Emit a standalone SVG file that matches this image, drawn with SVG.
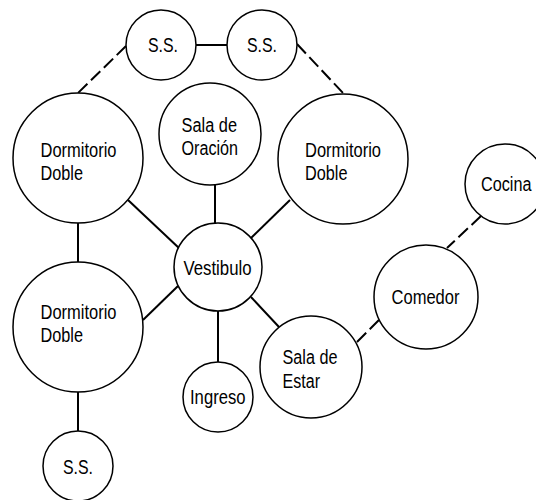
<svg xmlns="http://www.w3.org/2000/svg" width="536" height="500" viewBox="0 0 536 500">
<style>
.n{fill:#fff;stroke:#000;stroke-width:1.5}
.c{stroke:#000;stroke-width:2;fill:none}
.d{stroke-dasharray:13 5}
text{font-family:"Liberation Sans",Arial,sans-serif;font-size:20px;fill:#000}
</style>
<rect width="536" height="500" fill="#fff"/>
<g id="connectors">
<line class="c" x1="196" y1="45" x2="227" y2="45"/>
<line class="c d" x1="126" y1="46" x2="78" y2="93"/>
<line class="c d" x1="297" y1="44" x2="344" y2="94"/>
<line class="c" x1="78" y1="223" x2="78" y2="262"/>
<line class="c" x1="128" y1="200" x2="180" y2="249"/>
<line class="c" x1="215" y1="185" x2="215" y2="224"/>
<line class="c" x1="290" y1="200" x2="250" y2="239"/>
<line class="c" x1="143" y1="320" x2="178" y2="286"/>
<line class="c" x1="218" y1="311" x2="218" y2="362"/>
<line class="c" x1="251" y1="297" x2="279" y2="327"/>
<line class="c" x1="78" y1="392" x2="78" y2="431"/>
<line class="c d" x1="357" y1="342" x2="380" y2="319"/>
<line class="c d" x1="481" y1="216" x2="447" y2="248"/>
</g>
<g id="ss1"><circle class="n" cx="161" cy="45" r="35"/><text x="148" y="51.5" textLength="30" lengthAdjust="spacingAndGlyphs">S.S.</text></g>
<g id="ss2"><circle class="n" cx="262" cy="45" r="35"/><text x="247" y="51.5" textLength="30" lengthAdjust="spacingAndGlyphs">S.S.</text></g>
<g id="dorm1"><circle class="n" cx="78" cy="158" r="65"/><text x="40.5" y="157" textLength="76" lengthAdjust="spacingAndGlyphs">Dormitorio</text><text x="40.5" y="180" textLength="42.5" lengthAdjust="spacingAndGlyphs">Doble</text></g>
<g id="oracion"><circle class="n" cx="210" cy="134" r="51"/><text x="181.5" y="131.5" textLength="55.5" lengthAdjust="spacingAndGlyphs">Sala de</text><text x="181.5" y="154.5" textLength="56.5" lengthAdjust="spacingAndGlyphs">Oración</text></g>
<g id="dorm2"><circle class="n" cx="343" cy="159" r="65"/><text x="305" y="157" textLength="76" lengthAdjust="spacingAndGlyphs">Dormitorio</text><text x="305" y="180" textLength="42.5" lengthAdjust="spacingAndGlyphs">Doble</text></g>
<g id="cocina"><circle class="n" cx="505" cy="184" r="40"/><text x="481" y="191" textLength="50.5" lengthAdjust="spacingAndGlyphs">Cocina</text></g>
<g id="vestibulo"><circle class="n" cx="218" cy="267" r="44"/><text x="183.5" y="275" textLength="68" lengthAdjust="spacingAndGlyphs">Vestibulo</text></g>
<g id="dorm3"><circle class="n" cx="78" cy="327" r="65"/><text x="40.5" y="318.5" textLength="76" lengthAdjust="spacingAndGlyphs">Dormitorio</text><text x="40.5" y="342" textLength="42.5" lengthAdjust="spacingAndGlyphs">Doble</text></g>
<g id="comedor"><circle class="n" cx="426" cy="297" r="52"/><text x="391.5" y="303.5" textLength="68" lengthAdjust="spacingAndGlyphs">Comedor</text></g>
<g id="estar"><circle class="n" cx="311" cy="367" r="51"/><text x="282.5" y="363.5" textLength="55" lengthAdjust="spacingAndGlyphs">Sala de</text><text x="282.5" y="388" textLength="37.5" lengthAdjust="spacingAndGlyphs">Estar</text></g>
<g id="ingreso"><circle class="n" cx="218" cy="397" r="35"/><text x="190" y="403.5" textLength="55.5" lengthAdjust="spacingAndGlyphs">Ingreso</text></g>
<g id="ss3"><circle class="n" cx="78" cy="466" r="35"/><text x="63" y="473.5" textLength="30" lengthAdjust="spacingAndGlyphs">S.S.</text></g>
</svg>
